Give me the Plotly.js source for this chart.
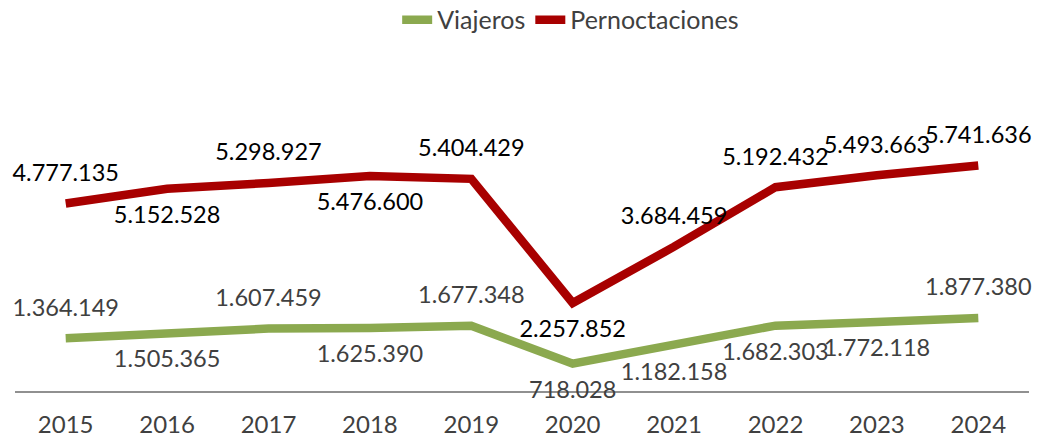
<!DOCTYPE html>
<html>
<head>
<meta charset="utf-8">
<script src="https://cdn.plot.ly/plotly-3.0.1.min.js"></script>
<style>
  html, body { margin: 0; padding: 0; background: #fff; }
  #chart { width: 1049px; height: 438px; }
</style>
</head>
<body>
<div id="chart"></div>
<script>
// years on the x axis
var years = ['2015', '2016', '2017', '2018', '2019', '2020', '2021', '2022', '2023', '2024'];

// series values
var viajeros = [1364149, 1505365, 1607459, 1625390, 1677348, 718028, 1182158, 1682303, 1772118, 1877380];
var pernoctaciones = [4777135, 5152528, 5298927, 5476600, 5404429, 2257852, 3684459, 5192432, 5493663, 5741636];

// where each value label sits (above / below the line)
var posViajeros = ['top', 'bottom', 'top', 'bottom', 'top', 'bottom', 'bottom', 'bottom', 'bottom', 'top'];
var posPernoct = ['top', 'bottom', 'top', 'bottom', 'top', 'bottom', 'top', 'top', 'top', 'top'];

// spanish style thousands: 1.364.149
function fmt(v) {
    return String(v).replace(/\B(?=(\d{3})+(?!\d))/g, '.');
}

function labelPos(p) {
    return p + ' center';
}

var font = 'Lato, "Open Sans", sans-serif';

var trace1 = {
    x: years,
    y: viajeros,
    name: 'Viajeros',
    type: 'scatter',
    mode: 'lines+markers+text',
    line: { color: '#8BA94F', width: 8.5 },
    // invisible markers, only used to push the labels off the line
    marker: { size: 25, color: 'rgba(0,0,0,0)' },
    text: viajeros.map(fmt),
    textposition: posViajeros.map(labelPos),
    textfont: { family: font, size: 23.5, color: '#404040' },
    cliponaxis: false,
    hoverinfo: 'x+y'
};

var trace2 = {
    x: years,
    y: pernoctaciones,
    name: 'Pernoctaciones',
    type: 'scatter',
    mode: 'lines+markers+text',
    line: { color: '#A80000', width: 8.5 },
    marker: { size: 25, color: 'rgba(0,0,0,0)' },
    text: pernoctaciones.map(fmt),
    textposition: posPernoct.map(labelPos),
    textfont: { family: font, size: 23.5, color: '#000000' },
    cliponaxis: false,
    hoverinfo: 'x+y'
};

var layout = {
    width: 1049,
    height: 438,
    margin: { l: 15, r: 20, t: 37, b: 46, autoexpand: false },
    paper_bgcolor: '#ffffff',
    plot_bgcolor: '#ffffff',
    font: { family: font, size: 24, color: '#404040' },
    showlegend: true,
    legend: {
        orientation: 'h',
        x: 0.548,
        xanchor: 'center',
        y: 1.048,
        yanchor: 'middle',
        font: { family: font, size: 25, color: '#404040' },
        itemwidth: 30,
        traceorder: 'normal'
    },
    xaxis: {
        type: 'category',
        range: [-0.5, 9.5],
        showgrid: false,
        zeroline: false,
        showline: false,
        ticks: '',
        ticklabelstandoff: 16,
        tickfont: { family: font, size: 24, color: '#404040' },
        fixedrange: true
    },
    yaxis: {
        range: [0, 9000000],
        showgrid: false,
        zeroline: true,
        zerolinecolor: '#909090',
        zerolinewidth: 1.5,
        showticklabels: false,
        showline: false,
        fixedrange: true
    }
};

Plotly.newPlot('chart', [trace1, trace2], layout, { displayModeBar: false, staticPlot: true });
</script>
</body>
</html>
